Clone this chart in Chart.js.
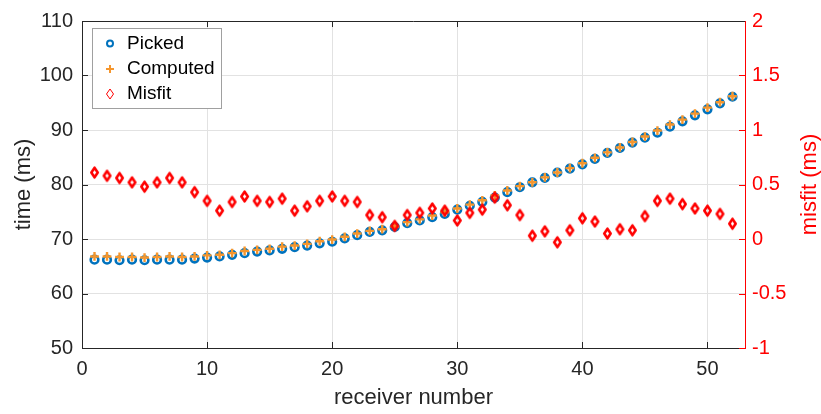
<!DOCTYPE html>
<html>
<head>
<meta charset="utf-8">
<script src="https://cdn.jsdelivr.net/npm/chart.js@4/dist/chart.umd.min.js"></script>
<style>
  html, body { margin: 0; padding: 0; background: #fff; }
  canvas { display: block; }
</style>
</head>
<body>
<canvas id="traveltime" width="821" height="414"></canvas>
<script>
// receiver index along the line
const receivers = [1, 2, 3, 4, 5, 6, 7, 8, 9, 10, 11, 12, 13, 14, 15, 16, 17, 18, 19, 20,
    21, 22, 23, 24, 25, 26, 27, 28, 29, 30, 31, 32, 33, 34, 35, 36, 37, 38, 39, 40,
    41, 42, 43, 44, 45, 46, 47, 48, 49, 50, 51, 52];

// first-arrival times (ms)
const picked = [66.2, 66.2, 66.1, 66.2, 66.1, 66.2, 66.2, 66.2, 66.4, 66.6,
    66.8, 67.1, 67.4, 67.7, 67.9, 68.2, 68.5, 68.8, 69.2, 69.5,
    70.1, 70.7, 71.3, 71.6, 72.2, 72.9, 73.4, 74.0, 74.6, 75.4,
    76.1, 76.8, 77.6, 78.6, 79.5, 80.4, 81.2, 82.2, 82.9, 83.7,
    84.7, 85.8, 86.7, 87.7, 88.6, 89.5, 90.6, 91.6, 92.7, 93.8,
    94.9, 96.1];
const computed = [66.8, 66.8, 66.7, 66.7, 66.6, 66.7, 66.8, 66.7, 66.8, 67.0,
    67.1, 67.4, 67.8, 68.0, 68.2, 68.6, 68.8, 69.1, 69.6, 69.9,
    70.4, 71.0, 71.5, 71.8, 72.3, 73.1, 73.6, 74.3, 74.9, 75.6,
    76.3, 77.1, 78.0, 78.9, 79.7, 80.4, 81.3, 82.2, 83.0, 83.9,
    84.9, 85.9, 86.8, 87.8, 88.8, 89.9, 91.0, 91.9, 93.0, 94.1,
    95.1, 96.2];
// computed minus picked (ms), right axis
const misfit = [0.61, 0.58, 0.56, 0.52, 0.48, 0.52, 0.56, 0.52, 0.43, 0.35,
    0.26, 0.34, 0.39, 0.35, 0.34, 0.37, 0.26, 0.30, 0.35, 0.39,
    0.35, 0.34, 0.22, 0.20, 0.12, 0.22, 0.24, 0.28, 0.26, 0.17,
    0.24, 0.27, 0.38, 0.31, 0.22, 0.03, 0.07, -0.03, 0.08, 0.19,
    0.16, 0.05, 0.09, 0.08, 0.21, 0.35, 0.37, 0.32, 0.28, 0.26,
    0.23, 0.14];

const xTicks = [0, 10, 20, 30, 40, 50];
const timeTicks = [50, 60, 70, 80, 90, 100, 110];
const misfitTicks = [-1, -0.5, 0, 0.5, 1, 1.5, 2];

const FONT = '"Liberation Sans", Arial, Helvetica, sans-serif';
const AXIS_COLOR = '#262626';
const BLUE = '#0072BD';
const ORANGE = 'rgb(245, 150, 45)';
const RED = '#ff0000';

function toPoints(xs, ys) {
    return xs.map(function (x, i) { return { x: x, y: ys[i] }; });
}

function fixTicks(values) {
    return function (axis) {
        axis.ticks = values.map(function (v) { return { value: v }; });
    };
}

// tall hollow diamond used for the misfit markers
function makeDiamond(color, hw, hh, lw) {
    const c = document.createElement('canvas');
    c.width = Math.ceil(2 * hw + lw + 2);
    c.height = Math.ceil(2 * hh + lw + 2);
    const g = c.getContext('2d');
    const cx = c.width / 2, cy = c.height / 2;
    g.strokeStyle = color;
    g.lineWidth = lw;
    g.lineJoin = 'round';
    g.beginPath();
    g.moveTo(cx, cy - hh);
    g.lineTo(cx + hw, cy);
    g.lineTo(cx, cy + hh);
    g.lineTo(cx - hw, cy);
    g.closePath();
    g.stroke();
    return c;
}
const diamond = makeDiamond(RED, 3.2, 4.8, 2.6);

// inward tick marks, top box edge, axis titles and the legend box
const decorations = {
    id: 'decorations',
    beforeDatasetsDraw: function (chart) {
        const ctx = chart.ctx;
        const a = chart.chartArea;
        const x = chart.scales.x, y = chart.scales.y, y2 = chart.scales.y2;
        const len = 6;
        ctx.save();
        ctx.lineWidth = 1;

        ctx.strokeStyle = AXIS_COLOR;
        xTicks.forEach(function (v) {
            const px = Math.round(x.getPixelForValue(v)) + 0.5;
            ctx.beginPath();
            ctx.moveTo(px, a.bottom); ctx.lineTo(px, a.bottom - len);
            ctx.moveTo(px, a.top); ctx.lineTo(px, a.top + len);
            ctx.stroke();
        });
        timeTicks.forEach(function (v) {
            const py = Math.round(y.getPixelForValue(v)) + 0.5;
            ctx.beginPath();
            ctx.moveTo(a.left, py); ctx.lineTo(a.left + len, py);
            ctx.stroke();
        });
        ctx.strokeStyle = RED;
        misfitTicks.forEach(function (v) {
            const py = Math.round(y2.getPixelForValue(v)) + 0.5;
            ctx.beginPath();
            ctx.moveTo(a.right, py); ctx.lineTo(a.right - len, py);
            ctx.stroke();
        });

        // top edge of the box
        ctx.strokeStyle = AXIS_COLOR;
        ctx.beginPath();
        ctx.moveTo(a.left, Math.round(a.top) + 0.5);
        ctx.lineTo(a.right, Math.round(a.top) + 0.5);
        ctx.stroke();
        ctx.restore();
    },
    afterDraw: function (chart) {
        const ctx = chart.ctx;
        const a = chart.chartArea;
        const midY = (a.top + a.bottom) / 2;
        ctx.save();

        // axis titles
        ctx.font = '22px ' + FONT;
        ctx.textAlign = 'center';
        ctx.textBaseline = 'middle';
        ctx.fillStyle = AXIS_COLOR;
        ctx.fillText('receiver number', (a.left + a.right) / 2, 398);

        ctx.save();
        ctx.translate(24, midY);
        ctx.rotate(-Math.PI / 2);
        ctx.fillText('time (ms)', 0, 0);
        ctx.restore();

        ctx.save();
        ctx.fillStyle = RED;
        ctx.translate(810, midY);
        ctx.rotate(-Math.PI / 2);
        ctx.fillText('misfit (ms)', 0, 0);
        ctx.restore();

        // legend
        const bx = 92.5, by = 28.5, bw = 129, bh = 80;
        ctx.fillStyle = '#fff';
        ctx.fillRect(bx, by, bw, bh);
        ctx.strokeStyle = '#a0a0a0';
        ctx.lineWidth = 1;
        ctx.strokeRect(bx, by, bw, bh);

        const mx = 110;
        const rows = [43.5, 69, 94];

        ctx.strokeStyle = BLUE;
        ctx.lineWidth = 2;
        ctx.beginPath();
        ctx.arc(mx, rows[0], 3, 0, 2 * Math.PI);
        ctx.stroke();

        ctx.strokeStyle = ORANGE;
        ctx.beginPath();
        ctx.moveTo(mx - 4, rows[1]); ctx.lineTo(mx + 4, rows[1]);
        ctx.moveTo(mx, rows[1] - 4); ctx.lineTo(mx, rows[1] + 4);
        ctx.stroke();

        ctx.strokeStyle = RED;
        ctx.lineWidth = 1;
        ctx.beginPath();
        ctx.moveTo(mx, rows[2] - 5);
        ctx.lineTo(mx + 3.5, rows[2]);
        ctx.lineTo(mx, rows[2] + 5);
        ctx.lineTo(mx - 3.5, rows[2]);
        ctx.closePath();
        ctx.stroke();

        ctx.font = '19px ' + FONT;
        ctx.textAlign = 'left';
        ctx.fillStyle = '#000';
        ctx.fillText('Picked', 127, rows[0]);
        ctx.fillText('Computed', 127, rows[1]);
        ctx.fillText('Misfit', 127, rows[2]);
        ctx.restore();
    }
};

const ctx = document.getElementById('traveltime').getContext('2d');
const chart = new Chart(ctx, {
    type: 'scatter',
    data: {
        datasets: [{
            label: 'Picked',
            data: toPoints(receivers, picked),
            yAxisID: 'y',
            order: 3,
            pointStyle: 'circle',
            radius: 3.8,
            borderWidth: 2.6,
            borderColor: BLUE,
            backgroundColor: 'rgba(0,0,0,0)'
        }, {
            label: 'Computed',
            data: toPoints(receivers, computed),
            yAxisID: 'y',
            order: 2,
            pointStyle: 'cross',
            radius: 4.4,
            borderWidth: 2.4,
            borderColor: ORANGE,
            backgroundColor: ORANGE
        }, {
            label: 'Misfit',
            data: toPoints(receivers, misfit),
            yAxisID: 'y2',
            order: 1,
            pointStyle: diamond,
            radius: 5,
            borderColor: RED,
            backgroundColor: RED
        }]
    },
    options: {
        responsive: false,
        animation: false,
        devicePixelRatio: 1,
        layout: { padding: { top: 16, left: 0, right: 0, bottom: 0 } },
        plugins: {
            legend: { display: false },
            tooltip: { enabled: false }
        },
        scales: {
            x: {
                type: 'linear',
                min: 0,
                max: 53,
                afterBuildTicks: fixTicks(xTicks),
                afterFit: function (s) { s.height = 66; },
                grid: { color: '#e2e2e2', drawTicks: false },
                border: { color: AXIS_COLOR },
                ticks: {
                    color: AXIS_COLOR,
                    padding: 9,
                    maxRotation: 0,
                    font: { family: FONT, size: 20 },
                    callback: function (v) { return String(v); }
                }
            },
            y: {
                type: 'linear',
                position: 'left',
                min: 50,
                max: 110,
                afterBuildTicks: fixTicks(timeTicks),
                afterFit: function (s) { s.width = 82; },
                grid: { color: '#e2e2e2', drawTicks: false },
                border: { color: AXIS_COLOR },
                ticks: {
                    color: AXIS_COLOR,
                    padding: 9,
                    font: { family: FONT, size: 20 },
                    callback: function (v) { return String(v); }
                }
            },
            y2: {
                type: 'linear',
                position: 'right',
                min: -1,
                max: 2,
                afterBuildTicks: fixTicks(misfitTicks),
                afterFit: function (s) { s.width = 76; },
                grid: { drawOnChartArea: false, drawTicks: false },
                border: { color: RED },
                ticks: {
                    color: RED,
                    padding: 7,
                    font: { family: FONT, size: 20 },
                    callback: function (v) { return String(v); }
                }
            }
        }
    },
    plugins: [decorations]
});
</script>
</body>
</html>
